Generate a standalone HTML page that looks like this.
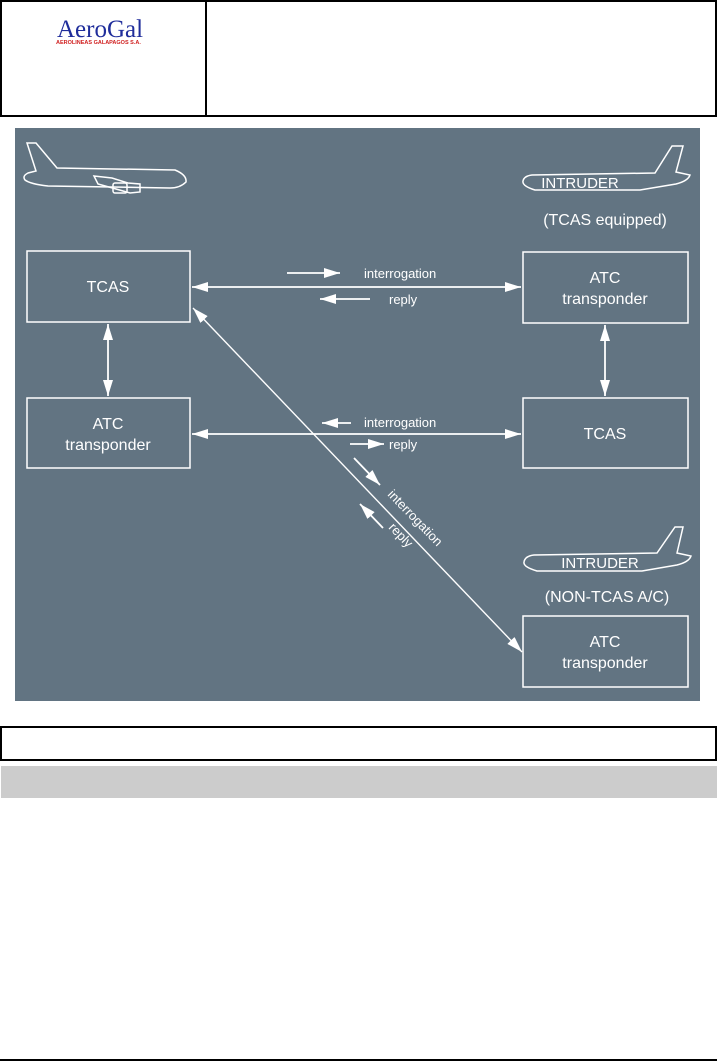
<!DOCTYPE html>
<html><head><meta charset="utf-8"><style>
html,body{margin:0;padding:0;background:#fff;}
svg{display:block}
</style></head><body>
<svg width="717" height="1062" viewBox="0 0 717 1062" xmlns="http://www.w3.org/2000/svg" font-family="Liberation Sans, Arial, sans-serif">
<defs>
<marker id="ah2" viewBox="0 0 10 10" refX="10" refY="5" markerWidth="16" markerHeight="10" markerUnits="userSpaceOnUse" orient="auto-start-reverse" preserveAspectRatio="none">
<path d="M0,0 L10,5 L0,10 z" fill="#fff"/></marker>
</defs>
<!-- header -->
<rect x="1" y="1" width="715" height="115" fill="none" stroke="#000" stroke-width="2"/>
<line x1="206" y1="1" x2="206" y2="116" stroke="#000" stroke-width="2"/>
<text x="57" y="37" font-family="Liberation Serif, serif" font-size="25" fill="#1f2d9b">AeroGal</text>
<text x="56" y="44" font-size="5.5" fill="#d02020" font-weight="bold">AEROLINEAS GALAPAGOS S.A.</text>
<!-- diagram -->
<rect x="15" y="128" width="685" height="573" fill="#627482"/>
<g fill="none" stroke="#fff" stroke-width="1.5">
<!-- left plane -->
<path d="M27,143 L36,143 L57,168 L175,170 Q187,175 186,182 Q180,188 170,188 L48,186 Q30,184 25,180 Q22,176 28,173 L36,171 Z"/>
<path d="M94,176 L112,178 L128,183 L140,184 L140,192 L130,193 L116,189 L98,184 Z"/>
<rect x="113" y="183" width="14" height="10" rx="2"/>
</g>
<g fill="none" stroke="#fff" stroke-width="1.5">
<!-- right plane 1 -->
<path d="M532,175 L655,173 L672,146 L683,146 L676,172 L690,175 Q688,181 676,184 L640,190 L535,190 Q522,186 523,181 Q524,176 532,175 Z"/>
<!-- right plane 2 -->
<path d="M534,555 L657,553 L675,527 L683,527 L677,553 L691,556 Q689,562 677,565 L642,571 L537,571 Q523,567 524,562 Q525,556 534,555 Z"/>
</g>
<g fill="#fff" text-anchor="middle">
<text x="580" y="188" font-size="15">INTRUDER</text>
<text x="605" y="225" font-size="16">(TCAS equipped)</text>
<text x="600" y="568" font-size="15">INTRUDER</text>
<text x="607" y="602" font-size="16">(NON-TCAS A/C)</text>
</g>
<g fill="none" stroke="#fff" stroke-width="1.5">
<rect x="27" y="251" width="163" height="71"/>
<rect x="27" y="398" width="163" height="70"/>
<rect x="523" y="252" width="165" height="71"/>
<rect x="523" y="398" width="165" height="70"/>
<rect x="523" y="616" width="165" height="71"/>
</g>
<g fill="#fff" text-anchor="middle" font-size="16">
<text x="108" y="292">TCAS</text>
<text x="108" y="429">ATC</text><text x="108" y="450">transponder</text>
<text x="605" y="283">ATC</text><text x="605" y="304">transponder</text>
<text x="605" y="439">TCAS</text>
<text x="605" y="647">ATC</text><text x="605" y="668">transponder</text>
</g>
<g stroke="#fff" stroke-width="1.8" fill="none">
<line x1="192" y1="287" x2="521" y2="287" marker-start="url(#ah2)" marker-end="url(#ah2)"/>
<line x1="192" y1="434" x2="521" y2="434" marker-start="url(#ah2)" marker-end="url(#ah2)"/>
<line x1="108" y1="324" x2="108" y2="396" marker-start="url(#ah2)" marker-end="url(#ah2)"/>
<line x1="605" y1="325" x2="605" y2="396" marker-start="url(#ah2)" marker-end="url(#ah2)"/>
<line x1="193" y1="308" x2="522" y2="652" stroke-width="1.4" marker-start="url(#ah2)" marker-end="url(#ah2)"/>
<line x1="287" y1="273" x2="340" y2="273" marker-end="url(#ah2)"/>
<line x1="370" y1="299" x2="320" y2="299" marker-end="url(#ah2)"/>
<line x1="351" y1="423" x2="322" y2="423" marker-end="url(#ah2)"/>
<line x1="350" y1="444" x2="384" y2="444" marker-end="url(#ah2)"/>
<line x1="354" y1="458" x2="380" y2="485" marker-end="url(#ah2)"/>
<line x1="383" y1="528" x2="360" y2="504" marker-end="url(#ah2)"/>
</g>
<g fill="#fff" font-size="13">
<text x="364" y="278">interrogation</text>
<text x="389" y="304">reply</text>
<text x="364" y="427">interrogation</text>
<text x="389" y="449">reply</text>
<text transform="translate(387,495) rotate(46)">interrogation</text>
<text transform="translate(388,528) rotate(46)">reply</text>
</g>
<!-- caption box -->
<rect x="1" y="727" width="715" height="33" fill="none" stroke="#000" stroke-width="2"/>
<rect x="1" y="766" width="716" height="32" fill="#cccccc"/>
<line x1="0" y1="1060" x2="717" y2="1060" stroke="#000" stroke-width="2"/>
</svg>
</body></html>
